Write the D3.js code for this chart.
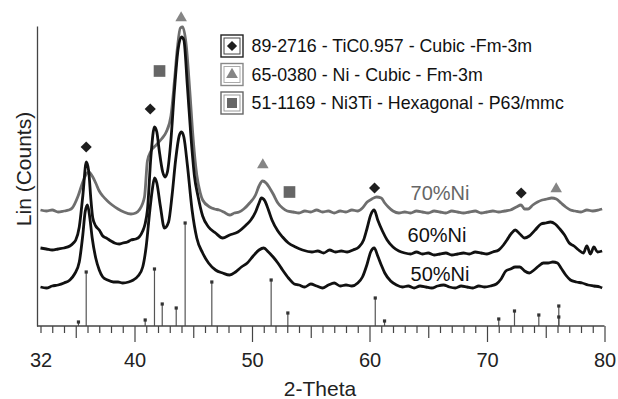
<!DOCTYPE html>
<html><head><meta charset="utf-8">
<script src="https://cdn.jsdelivr.net/npm/d3@7"></script>
<style>body{margin:0;background:#fff}svg{display:block;font-family:"Liberation Sans",Arial,sans-serif}</style>
</head><body><svg width="618" height="399"></svg>
<script>
// ---- data ----
const xTickLabels = [32, 40, 50, 60, 70, 80];
const seriesNames = ["70%Ni", "60%Ni", "50%Ni"];
const ni70 = [[32.0,116],[32.5,115],[33.0,116],[33.5,114],[34.0,115],[34.4,116],[34.7,118],[35.2,130],[35.6,144],[35.9,152],[36.1,154],[36.4,150],[36.7,143],[37.0,135],[37.3,130],[37.7,125],[38.1,121],[38.6,117],[39.1,114],[39.7,112],[40.1,113],[40.4,116],[40.85,129],[41.1,165],[41.4,175],[41.85,181],[42.3,187],[42.7,194],[43.1,210],[43.4,245],[43.65,278],[43.9,298],[44.1,299],[44.4,281],[44.7,236],[45.0,186],[45.3,151],[45.6,133],[45.8,126],[46.4,119],[46.8,117],[47.2,116],[47.6,114],[48.1,111],[48.5,113],[48.9,114],[49.3,117],[49.8,123],[50.3,131],[50.6,140],[50.9,145],[51.2,143],[51.5,138],[51.8,132],[52.2,123],[52.6,118],[53.0,115],[53.5,114],[54.0,113],[54.5,115],[55.0,114],[55.5,116],[56.0,114],[56.5,115],[57.0,113],[57.5,115],[58.0,114],[58.5,116],[59.0,115],[59.4,118],[59.8,124],[60.2,127],[60.6,129],[61.0,128],[61.3,123],[61.6,119],[62.0,115],[62.5,113],[63.0,114],[63.5,113],[64.0,115],[64.5,114],[65.0,113],[65.5,115],[66.0,114],[66.5,113],[67.0,115],[67.5,114],[68.0,113],[68.5,114],[69.0,115],[69.5,113],[70.0,114],[70.5,115],[71.0,114],[71.5,115],[72.0,116],[72.5,119],[72.9,121],[73.2,117],[73.5,117],[73.9,121],[74.3,124],[74.7,126],[75.1,127],[75.5,128],[75.9,127],[76.3,123],[76.7,119],[77.1,116],[77.5,115],[78.0,114],[78.5,116],[79.0,115],[79.5,116],[79.8,117]];
const ni60 = [[32.0,78],[32.5,77],[33.0,76],[33.5,77],[34.0,78],[34.5,80],[34.8,83],[35.0,86],[35.3,99],[35.6,130],[35.9,164],[36.1,155],[36.3,125],[36.45,108],[36.7,100],[37.0,96],[37.3,90],[37.6,88],[38.0,85],[38.3,83],[38.7,82],[39.0,83],[39.4,84],[39.7,86],[40.1,87],[40.4,89],[40.7,95],[40.9,102],[41.1,116],[41.4,170],[41.7,199],[41.9,194],[42.1,176],[42.4,154],[42.6,149],[42.8,154],[43.1,186],[43.4,236],[43.7,276],[44.0,289],[44.2,286],[44.5,240],[44.8,190],[45.1,150],[45.4,130],[45.8,110],[46.3,99],[46.9,93],[47.5,88],[48.1,91],[48.8,94],[49.5,101],[49.9,106],[50.3,114],[50.6,123],[50.8,128],[51.1,125],[51.4,116],[51.7,106],[52.2,95],[52.6,89],[53.1,83],[53.7,79],[54.3,76],[55.1,74],[55.6,75],[56.1,73],[56.6,76],[57.1,74],[57.6,75],[58.1,74],[58.6,76],[59.1,79],[59.5,86],[59.8,98],[60.1,111],[60.4,116],[60.7,106],[61.1,95],[61.5,86],[62.0,79],[62.5,75],[63.0,73],[63.5,72],[64.0,74],[64.5,72],[65.0,73],[65.5,71],[66.0,72],[66.5,73],[67.0,71],[67.5,72],[68.0,73],[68.5,72],[69.0,74],[69.5,73],[70.0,72],[70.5,74],[71.0,76],[71.4,81],[71.7,86],[72.1,93],[72.4,96],[72.8,92],[73.2,88],[73.6,90],[74.1,96],[74.6,102],[75.0,103],[75.4,104],[75.8,102],[76.2,97],[76.6,91],[77.0,83],[77.4,80],[77.8,76],[78.2,73],[78.5,80],[78.8,72],[79.1,79],[79.4,74],[79.8,75]];
const ni50 = [[32.0,39],[32.5,38],[33.0,40],[33.5,41],[34.0,43],[34.5,46],[34.9,52],[35.3,64],[35.6,91],[35.8,114],[36.0,121],[36.2,108],[36.4,88],[36.7,68],[37.0,56],[37.3,49],[37.7,46],[38.2,44],[38.6,44],[39.0,43],[39.5,44],[39.9,46],[40.3,50],[40.7,59],[41.0,80],[41.3,115],[41.5,135],[41.7,148],[41.9,143],[42.2,120],[42.55,98],[42.9,104],[43.2,131],[43.5,166],[43.8,190],[44.0,194],[44.2,189],[44.5,161],[44.9,116],[45.3,88],[45.8,73],[46.3,63],[46.9,56],[47.5,53],[48.1,51],[48.6,54],[49.1,59],[49.6,63],[50.1,70],[50.6,76],[51.0,78],[51.4,74],[51.8,69],[52.2,63],[52.6,56],[53.1,48],[53.6,42],[54.0,41],[54.5,39],[55.0,42],[55.5,40],[56.0,38],[56.5,41],[57.0,43],[57.5,40],[58.0,41],[58.5,40],[59.0,43],[59.4,49],[59.8,62],[60.1,74],[60.4,78],[60.7,70],[61.0,61],[61.3,53],[61.8,45],[62.3,41],[62.8,39],[63.3,40],[63.8,38],[64.3,40],[64.8,39],[65.3,38],[65.8,40],[66.3,41],[66.8,39],[67.3,38],[67.8,40],[68.3,39],[68.8,38],[69.3,40],[69.8,39],[70.3,40],[70.8,42],[71.2,47],[71.6,55],[72.0,57],[72.4,59],[72.8,59],[73.2,55],[73.6,53],[74.0,56],[74.4,60],[74.8,63],[75.2,63],[75.6,64],[76.0,63],[76.3,58],[76.7,51],[77.1,46],[77.6,44],[78.1,43],[78.6,41],[79.1,40],[79.6,39],[79.8,38]];
const stickTheta  = [35.23, 35.89, 40.91, 41.70, 42.36, 43.55, 44.31, 46.58, 51.63, 53.05, 60.49, 61.28, 71.00, 72.34, 74.41, 76.11, 76.11];
const stickHeight = [4, 54, 6, 57, 22, 18, 103, 44, 46, 13, 28, 5, 7, 15, 11, 20, 9];
const diamondTheta = [35.89, 41.34, 60.43, 72.91];
const diamondCount = [179, 217, 138, 133];
const triangleTheta = [43.97, 50.92, 75.89];
const triangleCount = [308, 161, 137];
const squareTheta = [42.13, 53.19];
const squareCount = [255, 134];
const legendLabels = ["89-2716 - TiC0.957 - Cubic -Fm-3m", "65-0380 - Ni - Cubic - Fm-3m", "51-1169 - Ni3Ti - Hexagonal - P63/mmc"];

// ---- drawing ----
const svg = d3.select("svg");
const x = d3.scaleLinear().domain([32, 80]).range([40.5, 604.5]);
const y = d3.scaleLinear().domain([0, 300]).range([326, 26]);
const axisColor = "#444";

// sticks
const sticks = stickTheta.map((t, i) => ({t, h: stickHeight[i]}));
svg.append("g").selectAll("line").data(sticks).join("line")
  .attr("x1", d => x(d.t)).attr("x2", d => x(d.t))
  .attr("y1", y(0)).attr("y2", d => y(d.h))
  .attr("stroke", "#555").attr("stroke-width", 1.2);
svg.append("g").selectAll("rect").data(sticks).join("rect")
  .attr("x", d => x(d.t) - 1.6).attr("y", d => y(d.h) - 1.6)
  .attr("width", 3.2).attr("height", 3.2).attr("fill", "#333");

// axes
const yAxisX = 37;
svg.append("g").attr("transform", `translate(${yAxisX},0)`)
  .call(d3.axisLeft(y).tickValues([]).tickSizeOuter(0))
  .call(g => g.select(".domain").attr("stroke", axisColor).attr("stroke-width", 1.3));
svg.append("line").attr("x1", yAxisX).attr("x2", x(80)).attr("y1", y(0)).attr("y2", y(0))
  .attr("stroke", axisColor).attr("stroke-width", 1.3);

const allTicks = d3.range(32, 81);
function tickLayer(vals, size) {
  svg.append("g").attr("transform", `translate(0,${y(0)})`)
    .call(d3.axisBottom(x).tickValues(vals).tickSize(size).tickFormat(""))
    .call(g => g.select(".domain").remove())
    .call(g => g.selectAll("line").attr("stroke", axisColor).attr("stroke-width", 1.2));
}
tickLayer(allTicks.filter(v => v % 5 !== 0), 7);
tickLayer(allTicks.filter(v => v % 5 === 0 && v % 10 !== 0), 12);
tickLayer(allTicks.filter(v => v % 10 === 0), 16);
svg.append("g").attr("transform", `translate(0,${y(0)})`)
  .call(d3.axisBottom(x).tickValues(xTickLabels).tickSize(0).tickPadding(27).tickFormat(d3.format("d")))
  .call(g => g.select(".domain").remove())
  .call(g => g.selectAll("text").attr("font-size", 20).attr("fill", "#222")
    .attr("font-family", "'Liberation Sans',Arial,sans-serif"));

svg.append("text").attr("x", 320).attr("y", 396).attr("text-anchor", "middle")
  .attr("font-size", 21).attr("fill", "#222").text("2-Theta");
svg.append("text").attr("transform", "translate(31,169) rotate(-90)").attr("text-anchor", "middle")
  .attr("font-size", 21).attr("fill", "#222").text("Lin (Counts)");

// curves
const line = d3.line().x(d => x(d[0])).y(d => y(d[1])).curve(d3.curveMonotoneX);
const series = [
  {name: seriesNames[0], data: ni70, color: "#6e6e6e", lx: 440, ly: 200},
  {name: seriesNames[1], data: ni60, color: "#111", lx: 437, ly: 242},
  {name: seriesNames[2], data: ni50, color: "#111", lx: 440, ly: 281}
];
svg.append("g").selectAll("path").data(series).join("path")
  .attr("d", d => line(d.data)).attr("fill", "none")
  .attr("stroke", d => d.color).attr("stroke-width", 2.8).attr("stroke-linejoin", "round");
svg.append("g").selectAll("text").data(series).join("text")
  .attr("x", d => d.lx).attr("y", d => d.ly).attr("text-anchor", "middle")
  .attr("font-size", 20).attr("fill", d => d.name === "70%Ni" ? "#666" : "#111").text(d => d.name);

// markers
const diamondColor = "#1e1e1e", triColor = "#858585", sqColor = "#666";
const diamondPath = d3.symbol().type(d3.symbolSquare).size(62)();
const triPath = d3.symbol().type(d3.symbolTriangle).size(58)();
const sqPath = d3.symbol().type(d3.symbolSquare).size(136)();
svg.append("g").selectAll("path").data(diamondTheta.map((t, i) => [t, diamondCount[i]])).join("path")
  .attr("d", diamondPath).attr("fill", diamondColor)
  .attr("transform", d => `translate(${x(d[0])},${y(d[1])}) rotate(45)`);
svg.append("g").selectAll("path").data(triangleTheta.map((t, i) => [t, triangleCount[i]])).join("path")
  .attr("d", triPath).attr("fill", triColor)
  .attr("transform", d => `translate(${x(d[0])},${y(d[1])})`);
svg.append("g").selectAll("path").data(squareTheta.map((t, i) => [t, squareCount[i]])).join("path")
  .attr("d", sqPath).attr("fill", sqColor)
  .attr("transform", d => `translate(${x(d[0])},${y(d[1])})`);

// legend
const legendRows = [46, 74.5, 103];
const legColors = [["#222", "#444"], ["#888", "#aaa"], ["#666", "#999"]];
const lg = svg.append("g");
legendLabels.forEach((lab, i) => {
  const cy = legendRows[i], cx = 232;
  lg.append("rect").attr("x", cx - 11).attr("y", cy - 11).attr("width", 22).attr("height", 22)
    .attr("fill", "#fff").attr("stroke", legColors[i][0]).attr("stroke-width", 1.4);
  lg.append("rect").attr("x", cx - 8).attr("y", cy - 8).attr("width", 16).attr("height", 16)
    .attr("fill", "none").attr("stroke", legColors[i][1]).attr("stroke-width", 1);
  let p, tr = `translate(${cx},${cy})`, col;
  if (i === 0) { p = d3.symbol().type(d3.symbolSquare).size(52)(); tr += " rotate(45)"; col = diamondColor; }
  else if (i === 1) { p = d3.symbol().type(d3.symbolTriangle).size(60)(); col = triColor; }
  else { p = d3.symbol().type(d3.symbolSquare).size(100)(); col = sqColor; }
  lg.append("path").attr("d", p).attr("transform", tr).attr("fill", col);
  lg.append("text").attr("x", 251.5).attr("y", cy + 6.3).attr("font-size", 17.8).attr("fill", "#111").text(lab);
});
</script>
</body></html>
